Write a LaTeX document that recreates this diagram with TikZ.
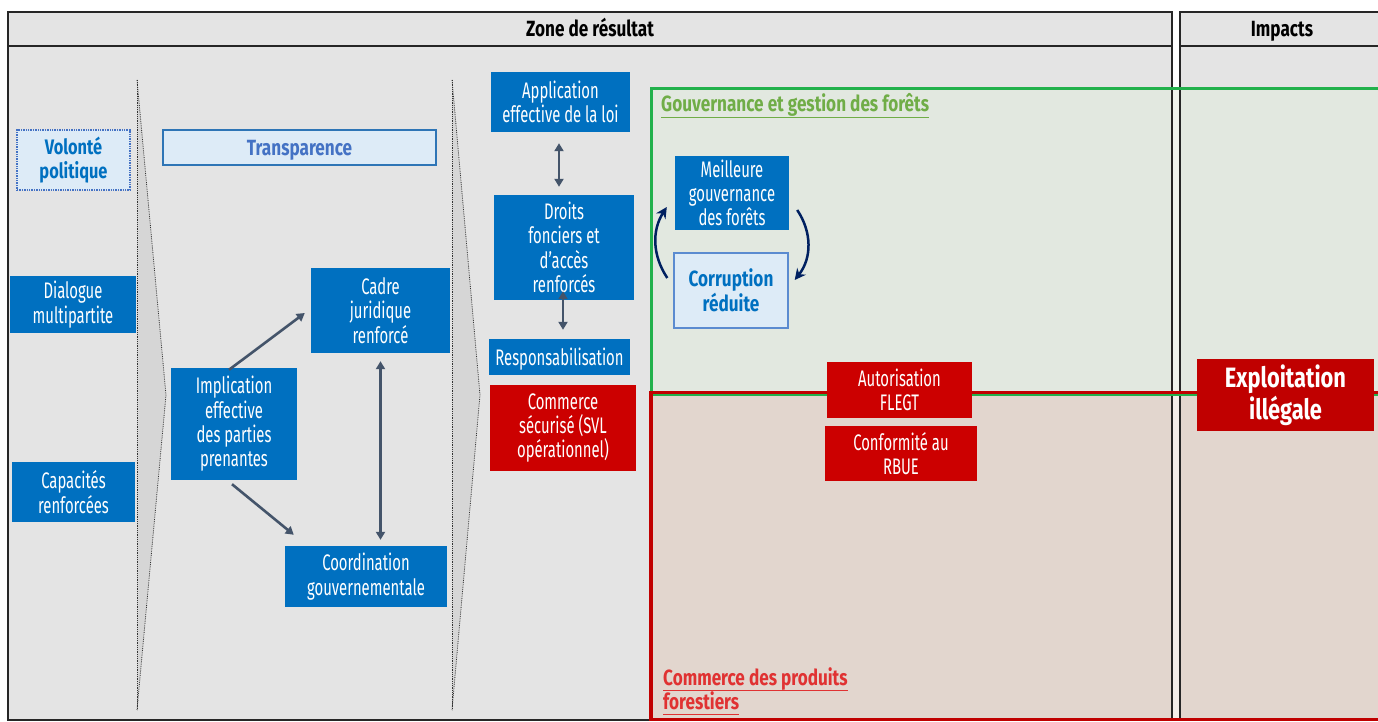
\documentclass[tikz,border=0pt]{standalone}
\usepackage{fontspec}
\setmainfont[FakeStretch=0.66, BoldFeatures={FakeStretch=0.78}]{Fira Sans}
\usetikzlibrary{arrows.meta,calc}
\definecolor{cBg}{HTML}{E4E4E4}
\definecolor{cChev}{HTML}{D6D6D6}
\definecolor{cBlue}{HTML}{0070C0}
\definecolor{cLight}{HTML}{DDEBF7}
\definecolor{cLightBorder}{HTML}{2E75B6}
\definecolor{cTransp}{HTML}{4472C4}
\definecolor{cCorrBorder}{HTML}{5B8BD0}
\definecolor{cRed}{HTML}{CC0000}
\definecolor{cDarkRed}{HTML}{C00000}
\definecolor{cArrow}{HTML}{44546A}
\definecolor{cNavy}{HTML}{002060}
\definecolor{cGreenLine}{HTML}{22B14C}
\definecolor{cGreenText}{HTML}{70AD47}
\definecolor{cGreenFill}{HTML}{E2E8E0}
\definecolor{cRedFill}{HTML}{E2D6CE}
\definecolor{cGreenGap}{HTML}{F0F4EE}
\definecolor{cRedGap}{HTML}{F4EEEA}
\definecolor{cRedText}{HTML}{E03232}
\begin{document}
\begin{tikzpicture}[x=1pt,y=-1pt,
  box/.style={inner sep=0pt, align=center, font=\fontsize{22.5}{24.3}\selectfont},
  bluebox/.style={box, fill=cBlue, text=white},
  redbox/.style={box, fill=cRed, text=white},
  lightbox/.style={box, fill=cLight, text=cBlue},
  frame/.style={draw=black!85, line width=1.4pt},
  chevline/.style={draw=black!80, densely dotted, line width=0.8pt},
  dblarrow/.style={draw=cArrow, line width=2.6pt, {Triangle[length=8pt,width=9pt]}-{Triangle[length=8pt,width=9pt]}},
  sglarrow/.style={draw=cArrow, line width=2.6pt, -{Triangle[length=8pt,width=9pt]}},
  curvarrow/.style={draw=cNavy, line width=2.5pt, -{Stealth[length=11pt,width=11pt]}},
  header/.style={inner sep=0pt, anchor=base, font=\bfseries\fontsize{22}{24}\selectfont, text=black},
  reglabel/.style={inner sep=0pt, anchor=base west, font=\bfseries\fontsize{22}{24}\selectfont}
]
\useasboundingbox (0,0) rectangle (1378,722);
\clip (0,0) rectangle (1378,722);
\fill[white] (0,0) rectangle (1378,722);

% frames
\fill[cBg] (8,12) rectangle (1172,720);
\fill[cBg] (1180,12) rectangle (1400,720);

% thematic regions
\fill[cGreenFill] (651,88) rectangle (1400,393);
\fill[cRedFill] (651,393) rectangle (1400,720);
\fill[cGreenGap] (1172,88) rectangle (1180,393);
\fill[cRedGap] (1172,393) rectangle (1180,720);

\draw[frame] (8,12) rectangle (1172,720);
\draw[frame] (8,46) -- (1172,46);
\draw[frame] (1180,12) rectangle (1400,720);
\draw[frame] (1180,46) -- (1400,46);

\draw[draw=cGreenLine, line width=3pt] (651,88.5) rectangle (1400,394.5);
\draw[draw=cDarkRed, line width=3.2pt] (651,392.5) rectangle (1400,719.5);

\node[header] (zone) at (590,36.5) {Zone de résultat};
\node[header] (impacts) at (1282,36.5) {Impacts};

% chevrons
\fill[cChev] (137,80) -- (166,395) -- (137,710) -- cycle;
\draw[chevline] (137,80) -- (137,710);
\draw[chevline] (137,80) -- (166,395) -- (137,710);
\fill[cChev] (452,80) -- (480,395) -- (452,710) -- cycle;
\draw[chevline] (452,80) -- (452,710);
\draw[chevline] (452,80) -- (480,395) -- (452,710);

% region labels
\node[reglabel, text=cGreenText] (govlab) at (661,111.5) {Gouvernance et gestion des forêts};
\draw[cGreenText, line width=1.6pt] ([yshift=-6pt]govlab.base west) -- ([yshift=-6pt]govlab.base east);
\node[reglabel, text=cRedText] (comlabA) at (663,685.5) {Commerce des produits};
\draw[cRedText, line width=1.6pt] ([yshift=-5pt]comlabA.base west) -- ([yshift=-5pt]comlabA.base east);
\node[reglabel, text=cRedText] (comlabB) at (663,709.5) {forestiers};
\draw[cRedText, line width=1.6pt] ([yshift=-5pt]comlabB.base west) -- ([yshift=-5pt]comlabB.base east);

% nodes
\node[lightbox, draw=cTransp, densely dotted, line width=1.4pt, font=\bfseries\fontsize{21}{24}\selectfont, minimum width=113pt, minimum height=60pt] (volonte) at (73.5,160) {Volonté\\politique};
\node[lightbox, draw=cLightBorder, line width=1.2pt, text=cTransp, font=\bfseries\fontsize{22}{24}\selectfont, minimum width=273pt, minimum height=35pt, text depth=0pt] (transp) at (299.5,147.5) {Transparence};
\node[bluebox, minimum width=126pt, minimum height=57pt] (dialogue) at (73,304.5) {Dialogue\\multipartite};
\node[bluebox, minimum width=123pt, minimum height=60pt] (capac) at (73.5,492) {Capacités\\renforcées};
\node[bluebox, minimum width=126pt, minimum height=112pt] (impl) at (234,424) {Implication\\effective\\des parties\\prenantes};
\node[bluebox, minimum width=139pt, minimum height=85pt] (cadre) at (380.5,310.5) {Cadre\\juridique\\renforcé};
\node[bluebox, minimum width=162pt, minimum height=61pt] (coord) at (366,576.5) {Coordination\\gouvernementale};
\node[bluebox, minimum width=139pt, minimum height=60pt] (applic) at (560.5,102) {Application\\effective de la loi};
\node[bluebox, minimum width=140pt, minimum height=105pt] (droits) at (564,247.5) {Droits\\fonciers et\\d’accès\\renforcés};
\node[bluebox, minimum width=141pt, minimum height=36pt, text depth=0pt] (respons) at (559.5,357) {Responsabilisation};
\node[redbox, minimum width=146pt, minimum height=86pt] (commerce) at (563,428) {Commerce\\sécurisé (SVL\\opérationnel)};
\node[bluebox, minimum width=114pt, minimum height=74pt] (meilleure) at (732,193) {Meilleure\\gouvernance\\des forêts};
\node[lightbox, draw=cCorrBorder, line width=1.4pt, font=\bfseries\fontsize{22}{25}\selectfont, minimum width=114pt, minimum height=75pt] (corr) at (731,290.5) {Corruption\\réduite};
\node[redbox, minimum width=145pt, minimum height=56pt] (flegt) at (899.5,390) {Autorisation\\FLEGT};
\node[redbox, minimum width=152pt, minimum height=55pt] (rbue) at (901,453.5) {Conformité au\\RBUE};
\node[box, fill=cDarkRed, text=white, font=\bfseries\fontsize{28}{32}\selectfont, minimum width=177pt, minimum height=72pt] (exploit) at (1285.5,395) {Exploitation\\illégale};

% connectors
\draw[sglarrow] ([xshift=-5pt,yshift=-2pt]impl.north) -- ([xshift=-6pt,yshift=-2.5pt]cadre.west);
\draw[sglarrow] ([xshift=-2pt,yshift=-4pt]impl.south) -- ([xshift=9pt,yshift=11pt]coord.north west);
\draw[dblarrow] ([yshift=-8pt]cadre.south) -- ([yshift=6pt]cadre.south |- coord.north);
\draw[dblarrow] ([xshift=-1.5pt,yshift=-11pt]applic.south) -- ([xshift=-1.5pt,yshift=8pt]applic.south |- droits.north);
\draw[dblarrow] ([xshift=-1pt,yshift=9pt]droits.south) -- ([xshift=-1pt,yshift=9pt]droits.south |- respons.north);

\coordinate (cls) at ([xshift=-6pt,yshift=12.5pt]corr.west);
\coordinate (cle) at ([xshift=-8pt,yshift=-14pt]meilleure.west);
\coordinate (crs) at ([xshift=8pt,yshift=-17pt]meilleure.east);
\coordinate (cre) at ([xshift=6pt,yshift=10.5pt]corr.east);
\draw[curvarrow] (cls) .. controls (652,255) and (652,230) .. (cle);
\draw[curvarrow] (crs) .. controls (812,232) and (812,258) .. (cre);
\end{tikzpicture}
\end{document}
